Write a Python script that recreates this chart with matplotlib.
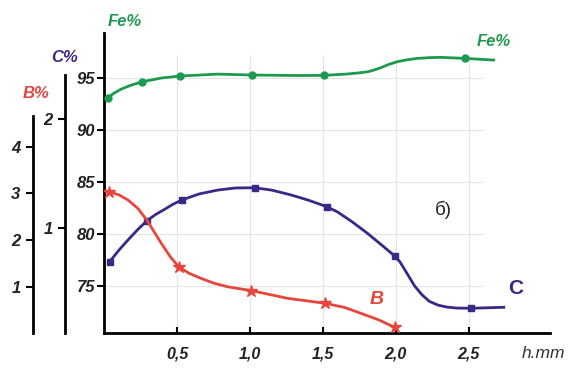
# Fe, C and B content vs depth h, three left axes
import matplotlib
matplotlib.use("Agg")
from matplotlib import pyplot as plt

# Fe % (traced line + marker points)
fe_line_h = [0.025, 0.06, 0.116, 0.18, 0.258, 0.39, 0.516, 0.78, 1.01, 1.35, 1.505, 1.66, 1.75, 1.806, 1.85, 1.897, 1.95, 2.01, 2.08, 2.149, 2.23, 2.308, 2.473, 2.673]
fe_line_v = [93.11, 93.5, 93.94, 94.3, 94.64, 95.0, 95.19, 95.38, 95.29, 95.24, 95.26, 95.38, 95.5, 95.6, 95.77, 95.99, 96.3, 96.57, 96.76, 96.89, 96.96, 96.99, 96.89, 96.73]
fe_pts_h = [0.025, 0.258, 0.516, 1.01, 1.505, 2.473]
fe_pts_v = [93.1, 94.64, 95.19, 95.29, 95.26, 96.89]

# C % (traced line + marker points)
c_line_h = [0.036, 0.10, 0.162, 0.23, 0.292, 0.35, 0.413, 0.47, 0.532, 0.65, 0.779, 0.90, 1.031, 1.15, 1.281, 1.40, 1.527, 1.60, 1.70, 1.80, 1.90, 1.993, 2.03, 2.08, 2.13, 2.18, 2.23, 2.29, 2.35, 2.42, 2.514, 2.742]
c_line_v = [0.694, 0.80, 0.893, 0.99, 1.070, 1.125, 1.174, 1.22, 1.260, 1.315, 1.351, 1.370, 1.372, 1.350, 1.306, 1.258, 1.198, 1.15, 1.06, 0.96, 0.85, 0.746, 0.69, 0.58, 0.47, 0.39, 0.33, 0.295, 0.277, 0.268, 0.266, 0.275]
c_pts_h = [0.036, 0.292, 0.532, 1.031, 1.527, 1.993, 2.514]
c_pts_v = [0.694, 1.070, 1.260, 1.372, 1.198, 0.746, 0.266]

# B % (traced line + marker points)
b_line_h = [0.029, 0.10, 0.162, 0.23, 0.292, 0.34, 0.39, 0.45, 0.509, 0.58, 0.664, 0.75, 0.847, 1.007, 1.258, 1.514, 1.65, 1.76, 1.88, 1.993]
b_line_v = [3.04, 2.97, 2.86, 2.68, 2.43, 2.19, 1.94, 1.66, 1.44, 1.30, 1.19, 1.09, 1.01, 0.93, 0.765, 0.66, 0.57, 0.446, 0.31, 0.147]
b_pts_h = [0.029, 0.509, 1.007, 1.514, 1.993]
b_pts_v = [3.04, 1.44, 0.93, 0.66, 0.147]

h_ticks = [0.5, 1.0, 1.5, 2.0, 2.5]
h_labels = ["0,5", "1,0", "1,5", "2,0", "2,5"]
fe_ticks = [75, 80, 85, 90, 95]
c_ticks = [1, 2]
b_ticks = [1, 2, 3, 4]

green = "#1d9a4e"
purple = "#3b2886"
red = "#e8463d"
ink = "#222222"

plt.rcParams["font.family"] = ["Liberation Sans", "DejaVu Sans"]
tick_font = dict(fontsize=12, fontweight="bold", style="italic", color=ink)
x_font = dict(fontsize=11.5, fontweight="bold", style="italic", color=ink)

fig = plt.figure(figsize=(5.72, 3.71), dpi=100)
ax = fig.add_axes([0.1818, 0.1024, 0.78, 0.8086])
ax.set_xlim(-0.003, 3.06)
ax.set_ylim(70.48, 99.33)

# light grid, only over the data region
ax.hlines(fe_ticks, 0, 2.6, color="#e4e4e4", lw=0.8, zorder=0)
ax.vlines(h_ticks, 70.48, 97.2, color="#e4e4e4", lw=0.8, zorder=0)

for s in ["top", "right"]:
    ax.spines[s].set_visible(False)
for s in ["left", "bottom"]:
    ax.spines[s].set_linewidth(2)
ax.set_xticks(h_ticks)
ax.set_xticklabels(h_labels, **x_font)
ax.tick_params(axis="x", direction="in", length=4.5, width=1.5, pad=10)
ax.set_yticks(fe_ticks)
ax.set_yticklabels([str(t) for t in fe_ticks], **tick_font)
ax.tick_params(axis="y", direction="out", length=5, width=1.5, pad=1.5)

ax.plot(fe_line_h, fe_line_v, color=green, lw=2, zorder=3)
ax.plot(fe_pts_h, fe_pts_v, "o", color=green, ms=5, zorder=4)


def side_axis(offset, ylim, top, ticks):
    a = ax.twinx()
    a.set_ylim(*ylim)
    for s in ["top", "right", "bottom"]:
        a.spines[s].set_visible(False)
    a.spines["left"].set_visible(True)
    a.spines["left"].set_position(("axes", offset))
    a.spines["left"].set_linewidth(2)
    a.spines["left"].set_bounds(ylim[0], top)
    a.yaxis.set_ticks_position("left")
    a.set_yticks(ticks)
    a.set_yticklabels([str(t) for t in ticks], **tick_font)
    a.tick_params(axis="y", direction="out", length=5, width=1.5, pad=4)
    return a


ax_c = side_axis(-0.087, (0.039, 2.792), 2.41, c_ticks)
ax_b = side_axis(-0.159, (0.026, 6.42), 4.65, b_ticks)

ax_c.plot(c_line_h, c_line_v, color=purple, lw=2, zorder=3)
ax_c.plot(c_pts_h, c_pts_v, "s", color=purple, ms=5, zorder=4)
ax_b.plot(b_line_h, b_line_v, color=red, lw=2, zorder=3)
ax_b.plot(b_pts_h, b_pts_v, "*", color=red, ms=9, zorder=4)


def px(x, y):
    return x / 572, 1 - y / 371


lab = dict(fontweight="bold", style="italic", ha="center", va="center")
fig.text(*px(125, 22), "Fe%", color=green, fontsize=12, **lab)
fig.text(*px(494, 42), "Fe%", color=green, fontsize=12, **lab)
fig.text(*px(65, 58), "C%", color=purple, fontsize=12, **lab)
fig.text(*px(36, 93), "B%", color=red, fontsize=12, **lab)
fig.text(*px(377, 300), "B", color=red, fontsize=14, **lab)
fig.text(*px(516, 288), "C", color=purple, fontsize=15, fontweight="bold", ha="center", va="center")
fig.text(*px(443, 210), "б)", color=ink, fontsize=13.5, ha="center", va="center")
fig.text(*px(543, 353), "h.mm", color="#333333", fontsize=12.5, style="italic", ha="center", va="center")

fig.savefig("out.png", dpi=100)
